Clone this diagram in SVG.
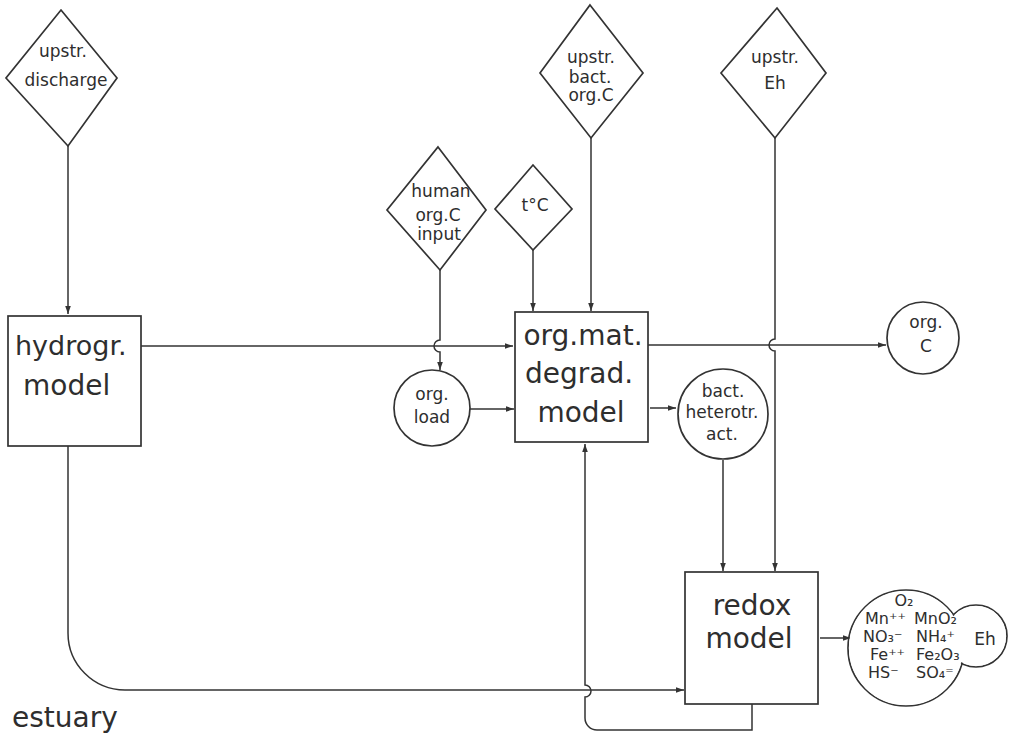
<svg xmlns="http://www.w3.org/2000/svg" width="1020" height="736" viewBox="0 0 1020 736">
<style>
.sh{fill:#fff;stroke:#333;stroke-width:1.7}
.ln{fill:none;stroke:#333;stroke-width:1.5}
.t{font-family:"DejaVu Sans",sans-serif;fill:#2e2e2e}
.s17{font-size:17px}
.s15{font-size:16px}
.big{font-size:28px}
.m{text-anchor:middle}
</style>
<defs>
<marker id="ah" viewBox="0 0 10 10" refX="10" refY="5" markerWidth="8" markerHeight="8" markerUnits="userSpaceOnUse" orient="auto">
<path d="M0,1.5 L10,5 L0,8.5 z" fill="#333"/>
</marker>
</defs>
<rect width="1020" height="736" fill="#fff"/>

<g id="connectors">
<path class="ln" d="M68,146 V314" marker-end="url(#ah)"/>
<path class="ln" d="M141,346 H513" marker-end="url(#ah)"/>
<path class="ln" d="M440,270 V340 a6,6 0 0 0 0,12 V370" marker-end="url(#ah)"/>
<path class="ln" d="M533,250 V311" marker-end="url(#ah)"/>
<path class="ln" d="M591,138 V311" marker-end="url(#ah)"/>
<path class="ln" d="M470,409 H514" marker-end="url(#ah)"/>
<path class="ln" d="M650,408 H676" marker-end="url(#ah)"/>
<path class="ln" d="M648,345 H886" marker-end="url(#ah)"/>
<path class="ln" d="M775,138 V339 a6,6 0 0 0 0,12 V571" marker-end="url(#ah)"/>
<path class="ln" d="M723,460 V571" marker-end="url(#ah)"/>
<path class="ln" d="M820,638 H851" marker-end="url(#ah)"/>
<path class="ln" d="M68,446 V633 A57,57 0 0 0 125,690 H684" marker-end="url(#ah)"/>
<path class="ln" d="M752,704 V730 H597 A12,12 0 0 1 585,718 V697 a6,6 0 0 0 0,-12 V444" marker-end="url(#ah)"/>
</g>

<g id="upstr-discharge">
<polygon class="sh" points="61,10 117,78 68,146 6,78"/>
<text class="t s17 m" x="63" y="57">upstr.</text>
<text class="t s17 m" x="66" y="86">discharge</text>
</g>

<g id="human-org-c-input">
<polygon class="sh" points="438,147 486,210 440,270 387,210"/>
<text class="t s17 m" x="441" y="197">human</text>
<text class="t s17 m" x="438" y="221">org.C</text>
<text class="t s17 m" x="439" y="240">input</text>
</g>

<g id="temperature">
<polygon class="sh" points="533,165 572,209 533,250 495,209"/>
<text class="t s17 m" x="535" y="211">t°C</text>
</g>

<g id="upstr-bact-org-c">
<polygon class="sh" points="590,5 643,73 591,138 540,73"/>
<text class="t s17 m" x="591" y="63">upstr.</text>
<text class="t s17 m" x="590" y="83">bact.</text>
<text class="t s17 m" x="591" y="101">org.C</text>
</g>

<g id="upstr-eh">
<polygon class="sh" points="777,8 826,73 775,138 721,73"/>
<text class="t s17 m" x="775" y="63">upstr.</text>
<text class="t s17 m" x="775" y="89">Eh</text>
</g>

<g id="hydrogr-model">
<rect class="sh" x="8" y="316" width="133" height="130"/>
<text class="t" style="font-size:27px" x="15" y="355">hydrogr.</text>
<text class="t big" x="23" y="395">model</text>
</g>

<g id="org-load">
<circle class="sh" cx="432" cy="408" r="38"/>
<text class="t s17 m" x="432" y="400">org.</text>
<text class="t s17 m" x="432" y="423">load</text>
</g>

<g id="org-mat-degrad-model">
<rect class="sh" x="515" y="312" width="133" height="130"/>
<text class="t big m" x="583" y="345">org.mat.</text>
<text class="t big m" x="579" y="383">degrad.</text>
<text class="t big m" x="581" y="422">model</text>
</g>

<g id="bact-heterotr-act">
<circle class="sh" cx="723" cy="414" r="45"/>
<text class="t s17 m" x="723" y="397">bact.</text>
<text class="t s17 m" x="722" y="418">heterotr.</text>
<text class="t s17 m" x="722" y="440">act.</text>
</g>

<g id="org-c">
<circle class="sh" cx="923" cy="338" r="36"/>
<text class="t s17 m" x="926" y="328">org.</text>
<text class="t s17 m" x="926" y="352">C</text>
</g>

<g id="redox-model">
<rect class="sh" x="685" y="572" width="133" height="132"/>
<text class="t big m" x="752" y="615">redox</text>
<text class="t big m" x="749" y="648">model</text>
</g>

<g id="redox-species">
<circle cx="906" cy="648" r="58" fill="none" stroke="#333" stroke-width="1.7"/>
<circle cx="976" cy="636" r="31" fill="none" stroke="#333" stroke-width="1.7"/>
<circle cx="906" cy="648" r="57.1" fill="#fff"/>
<circle cx="976" cy="636" r="30.1" fill="#fff"/>
<text class="t s15 m" x="904" y="606">O₂</text>
<text class="t s15" x="865" y="624">Mn⁺⁺</text>
<text class="t s15" x="914" y="624">MnO₂</text>
<text class="t s15" x="863" y="642">NO₃⁻</text>
<text class="t s15" x="916" y="642">NH₄⁺</text>
<text class="t s15" x="870" y="660">Fe⁺⁺</text>
<text class="t s15" x="916" y="660">Fe₂O₃</text>
<text class="t s15" x="868" y="678">HS⁻</text>
<text class="t s15" x="916" y="678">SO₄⁼</text>
<text class="t s17 m" x="985" y="645">Eh</text>
</g>

<g id="estuary-label">
<text class="t big" x="12" y="727">estuary</text>
</g>
</svg>
